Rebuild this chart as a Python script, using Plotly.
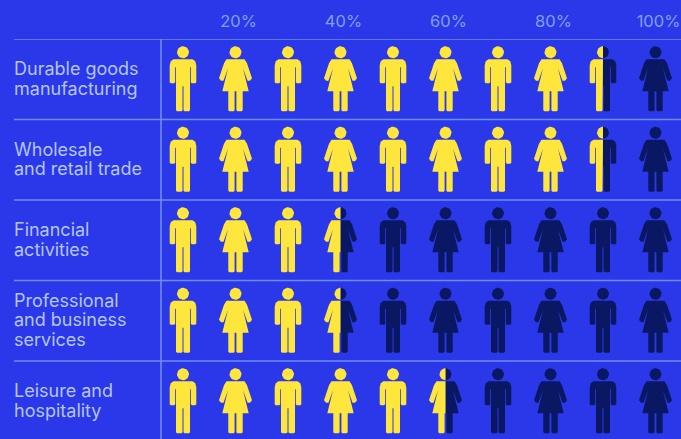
import math
import plotly.graph_objects as go

category_lines = [["Durable goods", "manufacturing"], ["Wholesale", "and retail trade"], ["Financial", "activities"],
                  ["Professional", "and business", "services"], ["Leisure and", "hospitality"]]
shares = [90, 90, 40, 40, 60]
icon_positions = [10, 20, 30, 40, 50, 60, 70, 80, 90, 100]
tick_values = [20, 40, 60, 80, 100]
tick_labels = ["20%", "40%", "60%", "80%", "100%"]

BG = "#2A38EA"
YELLOW = "#FFE63C"
DARK = "#0A1864"
RULE = "#6E8CF5"
TEXT = "#B4C6F7"
TICK = "#7FA0F0"
FONT = "Inter, Liberation Sans, sans-serif"

W, H = 681, 439
L, T = 161, 39
PX_PER_UNIT_X = 5.25
ROW_PX = 80.5
LINE_PX = 19.5
x_range = [(L - 130.5) / PX_PER_UNIT_X, (W - 130.5) / PX_PER_UNIT_X]
y_range = [-0.5 + (H - T) / ROW_PX, -0.5]


def half(points):
    return points + [(-x, y) for x, y in reversed(points)]


MAN = half([(0.5, 7), (0.5, 31), (1.5, 32), (6, 32), (7, 31), (7, 4), (7, -12), (7.8, -12), (7.8, 3), (8.8, 4),
            (12.3, 4), (13.3, 3), (13.3, -14), (12.3, -18), (9.5, -20), (0, -20)])
WOMAN = half([(0.9, 12), (0.9, 31), (1.8, 32), (6.2, 32), (7.2, 31), (7.2, 12), (13.2, 12), (7.5, -11), (12, 1.5),
              (14.5, 1.5), (16.5, -1), (11.5, -16), (9, -20), (0, -20)])
HEAD = [(6 * math.cos(2 * math.pi * k / 32), -27 + 6 * math.sin(2 * math.pi * k / 32)) for k in range(32)]


def clip(poly, limit, keep_left):
    out = []
    inside = (lambda p: p[0] <= limit) if keep_left else (lambda p: p[0] >= limit)
    for i, p in enumerate(poly):
        q = poly[(i + 1) % len(poly)]
        if inside(p):
            out.append(p)
        if inside(p) != inside(q):
            t = (limit - p[0]) / (q[0] - p[0])
            out.append((limit, p[1] + t * (q[1] - p[1])))
    return out


def add_poly(xs, ys, poly):
    if len(poly) < 3:
        return
    for x, y in poly + poly[:1]:
        xs.append(x)
        ys.append(y)
    xs.append(None)
    ys.append(None)


fig = go.Figure()
for row, share in enumerate(shares):
    lit_x, lit_y, dim_x, dim_y = [], [], [], []
    for col, pos in enumerate(icon_positions):
        template = MAN if col % 2 == 0 else WOMAN
        for part in (template, HEAD):
            poly = [(pos + dx / PX_PER_UNIT_X, row + dy / ROW_PX) for dx, dy in part]
            add_poly(lit_x, lit_y, clip(poly, share, True))
            add_poly(dim_x, dim_y, clip(poly, share, False))
    for xs, ys, color in ((dim_x, dim_y, DARK), (lit_x, lit_y, YELLOW)):
        fig.add_trace(go.Scatter(x=xs, y=ys, mode="lines", fill="toself", fillcolor=color,
                                 line=dict(color=color, width=0), hoverinfo="skip", showlegend=False))

rule_x0 = (14 - L) / (W - L)
shapes = []
for i in range(5):
    shapes.append(dict(type="line", xref="paper", yref="y", x0=rule_x0, x1=1, y0=i - 0.5, y1=i - 0.5,
                       line=dict(color=RULE, width=1.6), layer="below"))
shapes.append(dict(type="line", xref="paper", yref="paper", x0=0, x1=0, y0=0, y1=1,
                   line=dict(color=RULE, width=1.6), layer="below"))

annotations = []
for i, lines in enumerate(category_lines):
    for j, text in enumerate(lines):
        annotations.append(dict(text=text, xref="paper", yref="y", x=rule_x0, y=i, xanchor="left", yanchor="middle",
                                align="left", showarrow=False, xshift=-2,
                                yshift=((len(lines) - 1) / 2 - j) * LINE_PX + 1,
                                font=dict(family=FONT, size=18, color=TEXT)))

fig.update_layout(
    width=W, height=H, autosize=False, margin=dict(l=L, r=0, t=T, b=0),
    paper_bgcolor=BG, plot_bgcolor=BG, shapes=shapes, annotations=annotations, showlegend=False,
    xaxis=dict(range=x_range, side="top", tickmode="array", tickvals=tick_values, ticktext=tick_labels,
               showgrid=False, zeroline=False, ticks="", showline=False, ticklabelstandoff=8, ticklabelshift=3,
               tickfont=dict(family=FONT, size=16.5, color=TICK)),
    yaxis=dict(range=y_range, showticklabels=False, showgrid=False, zeroline=False, ticks="", showline=False),
)
fig.write_html("out.html", config=dict(displayModeBar=False),
               post_script="document.body.style.margin='0';document.body.style.background='" + BG + "';")
